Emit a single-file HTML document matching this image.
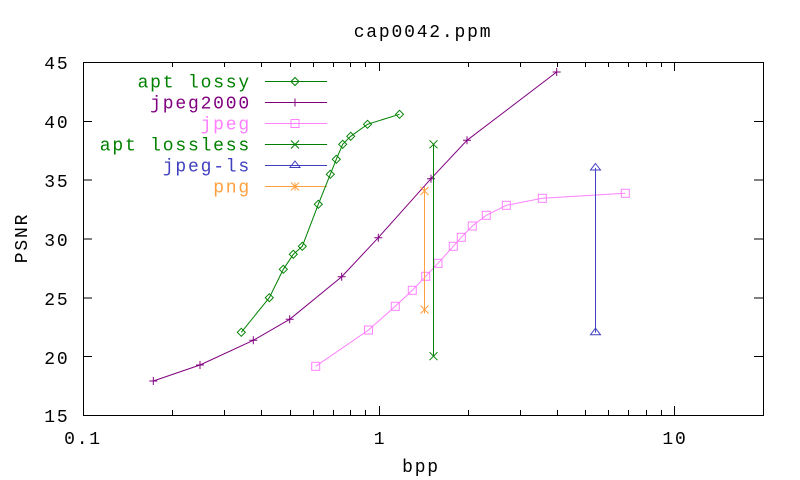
<!DOCTYPE html>
<html><head><meta charset="utf-8"><style>
html,body{margin:0;padding:0;background:#fff}
svg{display:block}
text{font-family:"Liberation Mono","DejaVu Sans Mono",monospace;font-size:18px;letter-spacing:1.8px}
</style></head><body>
<svg width="800" height="480" viewBox="0 0 800 480" xmlns="http://www.w3.org/2000/svg" shape-rendering="crispEdges">
<rect width="800" height="480" fill="#fff"/>
<!-- frame -->
<rect x="83.5" y="62.5" width="680" height="353" fill="none" stroke="#000" stroke-width="1"/>
<g stroke="#000" stroke-width="1">
<!-- y ticks -->
<path d="M83 62.5h9M763 62.5h-9 M83 121.3h9M763 121.3h-9 M83 180.2h9M763 180.2h-9 M83 239h9M763 239h-9 M83 297.8h9M763 297.8h-9 M83 356.7h9M763 356.7h-9 M83 415.5h9M763 415.5h-9"/>
<!-- x major ticks -->
<path d="M379.5 415v-9M379.5 62v9 M674.5 415v-9M674.5 62v9"/>
<!-- x minor ticks -->
<path d="M172.5 415v-5M172.5 62v5 M224.5 415v-5M224.5 62v5 M261.5 415v-5M261.5 62v5 M290.5 415v-5M290.5 62v5 M313.5 415v-5M313.5 62v5 M333.5 415v-5M333.5 62v5 M350.5 415v-5M350.5 62v5 M365.5 415v-5M365.5 62v5
M468.5 415v-5M468.5 62v5 M520.5 415v-5M520.5 62v5 M557.5 415v-5M557.5 62v5 M585.5 415v-5M585.5 62v5 M608.5 415v-5M608.5 62v5 M628.5 415v-5M628.5 62v5 M646.5 415v-5M646.5 62v5 M661.5 415v-5M661.5 62v5"/>
</g>
<!-- tick labels -->
<g fill="#000" text-anchor="end">
<text x="69.5" y="69">45</text>
<text x="69.5" y="128">40</text>
<text x="69.5" y="187">35</text>
<text x="69.5" y="246">30</text>
<text x="69.5" y="305">25</text>
<text x="69.5" y="364">20</text>
<text x="69.5" y="422">15</text>
</g>
<g fill="#000" text-anchor="middle">
<text x="83" y="444">0.1</text>
<text x="380" y="444">1</text>
<text x="675" y="444">10</text>
<text x="423" y="37">cap0042.ppm</text>
<text x="421" y="472">bpp</text>
<text transform="translate(27,238) rotate(-90)">PSNR</text>
</g>
<!-- legend texts -->
<g text-anchor="end">
<text x="251" y="87.5" fill="#008000">apt lossy</text>
<text x="251" y="108.5" fill="#800080">jpeg2000</text>
<text x="251" y="129.5" fill="#ff80ff">jpeg</text>
<text x="251" y="150.5" fill="#008000">apt lossless</text>
<text x="251" y="171.5" fill="#4040c0">jpeg-ls</text>
<text x="251" y="192.5" fill="#ffa040">png</text>
</g>
<g fill="none" stroke-width="1" shape-rendering="auto">
<!-- legend samples -->
<path d="M265 81.5h62" stroke="#008000"/>
<path d="M291 81.5l4 -4l4 4l-4 4z" stroke="#008000"/>
<path d="M265 102.5h62M295 98.5v8" stroke="#800080"/>
<path d="M265 123.5h62" stroke="#ff80ff"/>
<rect x="291" y="119.5" width="8" height="8" stroke="#ff80ff"/>
<path d="M265 144.5h62M291 140.5l8 8M291 148.5l8 -8" stroke="#008000"/>
<path d="M265 165.5h62" stroke="#4040c0"/>
<path d="M295 161l5 6.5h-10z" stroke="#4040c0"/>
<path d="M265 186.5h62M295 182.5v8M291 182.5l8 8M291 190.5l8 -8" stroke="#ffa040"/>

<!-- apt lossy -->
<polyline stroke="#008000" points="241.3,332.3 269.3,297.7 283.3,269.3 293.3,254.3 302.3,246.3 318.3,204.3 330.3,174.3 336.3,159.3 342.7,144.3 350.7,136.3 367.5,124.3 399.5,114.3"/>
<g stroke="#008000">
<path d="M237.3 332.3l4-4l4 4l-4 4z"/>
<path d="M265.3 297.7l4-4l4 4l-4 4z"/>
<path d="M279.3 269.3l4-4l4 4l-4 4z"/>
<path d="M289.3 254.3l4-4l4 4l-4 4z"/>
<path d="M298.3 246.3l4-4l4 4l-4 4z"/>
<path d="M314.3 204.3l4-4l4 4l-4 4z"/>
<path d="M326.3 174.3l4-4l4 4l-4 4z"/>
<path d="M332.3 159.3l4-4l4 4l-4 4z"/>
<path d="M338.7 144.3l4-4l4 4l-4 4z"/>
<path d="M346.7 136.3l4-4l4 4l-4 4z"/>
<path d="M363.5 124.3l4-4l4 4l-4 4z"/>
<path d="M395.5 114.3l4-4l4 4l-4 4z"/>
</g>

<!-- jpeg2000 -->
<polyline stroke="#800080" points="153.3,381 200,365 253.3,340.3 289.7,319.3 341.7,276.7 378.3,237.7 431,178.7 467,140.3 556.7,72"/>
<path stroke="#800080" d="M149.3 381h8M153.3 377v8 M196 365h8M200 361v8 M249.3 340.3h8M253.3 336.3v8 M285.7 319.3h8M289.7 315.3v8 M337.7 276.7h8M341.7 272.7v8 M374.3 237.7h8M378.3 233.7v8 M427 178.7h8M431 174.7v8 M463 140.3h8M467 136.3v8 M552.7 72h8M556.7 68v8"/>

<!-- jpeg -->
<polyline stroke="#ff80ff" points="315.7,366.3 368.5,330 395.3,306.3 412.3,290.3 425.7,276.3 438,263.3 453.3,246.3 461.3,237.3 472.3,226 486.3,215.3 506.3,205.3 542.3,198.3 625.3,193.3"/>
<g stroke="#ff80ff">
<rect x="311.7" y="362.3" width="8" height="8"/>
<rect x="364.5" y="326" width="8" height="8"/>
<rect x="391.3" y="302.3" width="8" height="8"/>
<rect x="408.3" y="286.3" width="8" height="8"/>
<rect x="421.7" y="272.3" width="8" height="8"/>
<rect x="434" y="259.3" width="8" height="8"/>
<rect x="449.3" y="242.3" width="8" height="8"/>
<rect x="457.3" y="233.3" width="8" height="8"/>
<rect x="468.3" y="222" width="8" height="8"/>
<rect x="482.3" y="211.3" width="8" height="8"/>
<rect x="502.3" y="201.3" width="8" height="8"/>
<rect x="538.3" y="194.3" width="8" height="8"/>
<rect x="621.3" y="189.3" width="8" height="8"/>
</g>

<!-- apt lossless -->
<path stroke="#008000" d="M433.5 144.3V356.2 M429.5 140.3l8 8M429.5 148.3l8-8 M429.5 352.2l8 8M429.5 360.2l8-8"/>

<!-- png -->
<path stroke="#ffa040" d="M424.5 191V309.5 M424.5 187v8M420.5 187l8 8M420.5 195l8-8 M424.5 305.5v8M420.5 305.5l8 8M420.5 313.5l8-8"/>

<!-- jpeg-ls -->
<path stroke="#4040c0" d="M595.5 167.9V332.6 M595.5 163.5l5 6.5h-10z M595.5 328.2l5 6.5h-10z"/>
</g>
</svg>
</body></html>
